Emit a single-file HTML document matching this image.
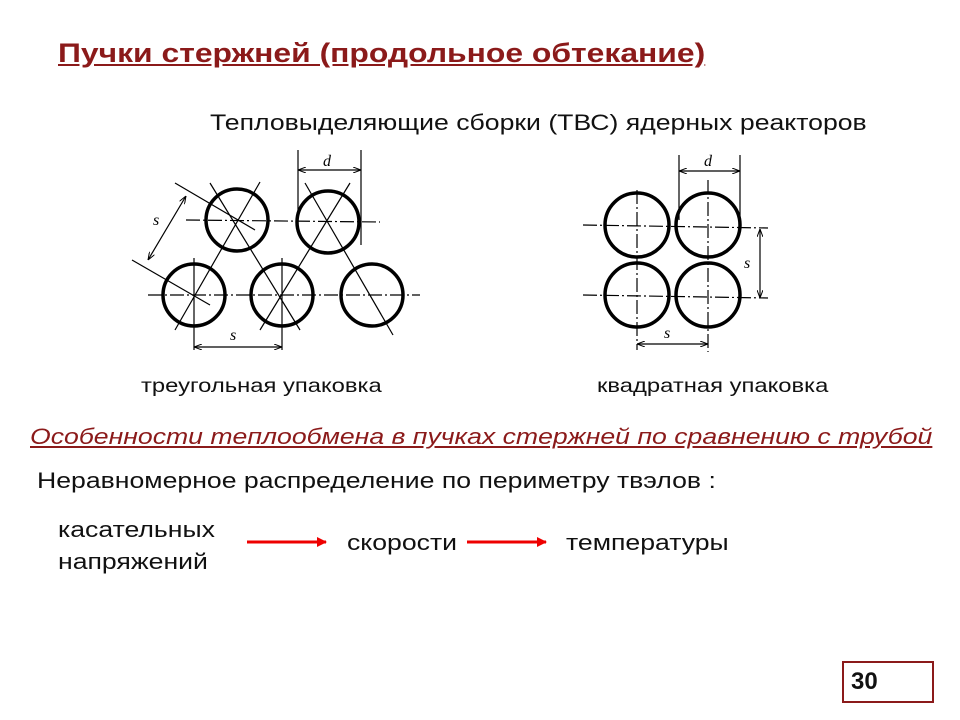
<!DOCTYPE html>
<html><head><meta charset="utf-8"><style>
body{margin:0;width:960px;height:720px;background:#fff;position:relative;font-family:"Liberation Sans",sans-serif;overflow:hidden}
.t{position:absolute;white-space:nowrap;transform-origin:0 0;transform:scaleX(1.21)}
</style></head><body>
<div class="t" style="left:58px;top:38px;font-size:27px;font-weight:bold;color:#8b1a1a;text-decoration:underline;transform:scaleX(1.18)">Пучки стержней (продольное обтекание)</div>
<div class="t" style="left:210px;top:110px;font-size:22px;color:#111">Тепловыделяющие сборки (ТВС) ядерных реакторов</div>
<div class="t" style="left:141px;top:375px;font-size:19.5px;color:#111;transform:scaleX(1.22)">треугольная упаковка</div>
<div class="t" style="left:597px;top:375px;font-size:19.5px;color:#111;transform:scaleX(1.22)">квадратная упаковка</div>
<div class="t" style="left:30px;top:424px;font-size:22px;font-style:italic;color:#8b1a1a;text-decoration:underline">Особенности теплообмена в пучках стержней по сравнению с трубой</div>
<div class="t" style="left:37px;top:468px;font-size:22px;color:#111">Неравномерное распределение по периметру твэлов :</div>
<div class="t" style="left:58px;top:514px;font-size:22px;color:#111;line-height:32px">касательных<br>напряжений</div>
<div class="t" style="left:347px;top:530px;font-size:22px;color:#111">скорости</div>
<div class="t" style="left:566px;top:530px;font-size:22px;color:#111">температуры</div>
<div style="position:absolute;left:842px;top:661px;width:88px;height:38px;border:2px solid #8b1a1a"></div>
<div class="t" style="left:851px;top:668px;font-size:24px;font-weight:bold;color:#111;transform:none">30</div>
<svg width="960" height="720" style="position:absolute;left:0;top:0">
<defs><marker id="a" markerWidth="10" markerHeight="10" refX="9" refY="5" orient="auto" markerUnits="userSpaceOnUse"><path d="M0,0L10,5L0,10z" fill="#e00"/></marker>
<marker id="k" markerWidth="8" markerHeight="6" refX="8" refY="3" orient="auto-start-reverse" markerUnits="userSpaceOnUse"><path d="M0,0L8,3L0,6" fill="none" stroke="#000"/></marker></defs>
<line x1="247" y1="542" x2="326" y2="542" stroke="#e00" stroke-width="3" marker-end="url(#a)"/>
<line x1="467" y1="542" x2="546" y2="542" stroke="#e00" stroke-width="3" marker-end="url(#a)"/>
<g stroke="#000" fill="none">
<g stroke-width="3.5">
<circle cx="237" cy="220" r="31"/><circle cx="328" cy="222" r="31"/>
<circle cx="194" cy="295" r="31"/><circle cx="282" cy="295" r="31"/><circle cx="372" cy="295" r="31"/>
<circle cx="637" cy="225" r="32"/><circle cx="708" cy="225" r="32"/>
<circle cx="637" cy="295" r="32"/><circle cx="708" cy="295" r="32"/>
</g>
<g stroke-width="1.2">
<line x1="186" y1="220" x2="380" y2="222" stroke-dasharray="14,3,2,3"/>
<line x1="148" y1="295" x2="420" y2="295" stroke-dasharray="14,3,2,3"/>
<line x1="175" y1="330" x2="260" y2="182"/><line x1="210" y1="183" x2="300" y2="330"/>
<line x1="260" y1="330" x2="350" y2="183"/><line x1="305" y1="183" x2="393" y2="335"/>
<line x1="175" y1="183" x2="255" y2="230"/><line x1="132" y1="260" x2="210" y2="305"/>
<line x1="194" y1="258" x2="194" y2="350"/><line x1="282" y1="258" x2="282" y2="350"/>
<line x1="298" y1="150" x2="298" y2="215"/><line x1="361" y1="150" x2="361" y2="245"/>
<line x1="298" y1="170" x2="361" y2="170" marker-start="url(#k)" marker-end="url(#k)"/>
<line x1="194" y1="347" x2="282" y2="347" marker-start="url(#k)" marker-end="url(#k)"/>
<line x1="186" y1="196" x2="148" y2="260" marker-start="url(#k)" marker-end="url(#k)"/>
<line x1="583" y1="225" x2="768" y2="228" stroke-dasharray="14,3,2,3"/>
<line x1="583" y1="295" x2="768" y2="298" stroke-dasharray="14,3,2,3"/>
<line x1="637" y1="190" x2="637" y2="350" stroke-dasharray="14,3,2,3"/>
<line x1="708" y1="180" x2="708" y2="352" stroke-dasharray="14,3,2,3"/>
<line x1="679" y1="155" x2="679" y2="220"/><line x1="740" y1="155" x2="740" y2="225"/>
<line x1="679" y1="171" x2="740" y2="171" marker-start="url(#k)" marker-end="url(#k)"/>
<line x1="760" y1="229" x2="760" y2="298" marker-start="url(#k)" marker-end="url(#k)"/>
<line x1="637" y1="344" x2="708" y2="344" marker-start="url(#k)" marker-end="url(#k)"/>
</g></g>
<g font-family="Liberation Serif,serif" font-style="italic" font-size="16">
<text x="323" y="166">d</text><text x="230" y="340">s</text><text x="153" y="225">s</text>
<text x="704" y="166">d</text><text x="664" y="338">s</text><text x="744" y="268">s</text>
</g>
</svg>
</body></html>
